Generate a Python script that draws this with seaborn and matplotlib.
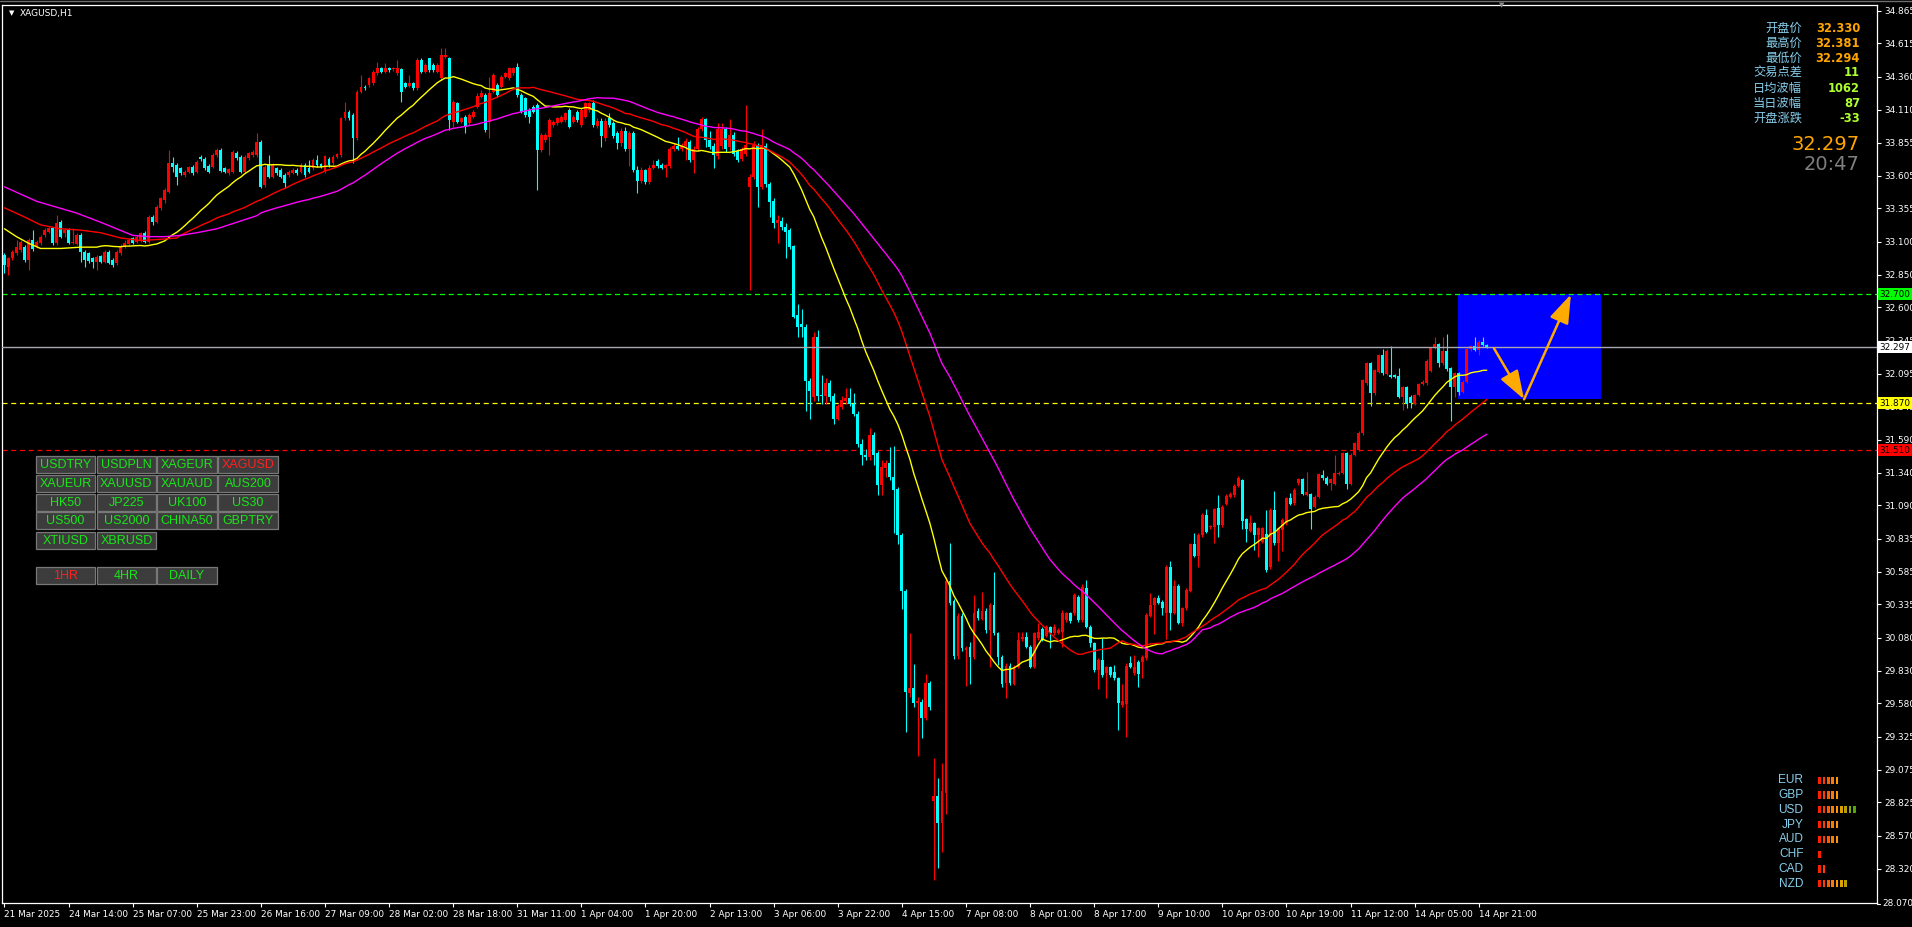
import numpy as np
import pandas as pd
import matplotlib
matplotlib.use("Agg")
import matplotlib.pyplot as plt
import matplotlib.transforms as mtransforms
from matplotlib.patches import Rectangle
import seaborn as sns

# ---------------- data (XAGUSD H1) ----------------
opens = [
33.000, 32.911, 32.975, 33.013, 33.038, 33.064, 32.962, 33.114, 33.064, 33.089,
33.152, 33.178, 33.203, 33.089, 33.254, 33.165, 33.191, 33.094, 33.084, 33.152,
33.025, 33.013, 32.975, 32.949, 32.992, 32.949, 33.025, 32.962, 32.936, 33.013,
33.058, 33.084, 33.127, 33.102, 33.114, 33.170, 33.102, 33.292, 33.254, 33.356,
33.420, 33.483, 33.699, 33.686, 33.661, 33.610, 33.636, 33.674, 33.636, 33.745,
33.732, 33.679, 33.674, 33.763, 33.801, 33.661, 33.623, 33.636, 33.781, 33.750,
33.636, 33.737, 33.763, 33.763, 33.865, 33.534, 33.686, 33.598, 33.661, 33.648,
33.610, 33.610, 33.628, 33.648, 33.636, 33.686, 33.661, 33.661, 33.725, 33.694,
33.636, 33.730, 33.699, 33.750, 33.763, 34.042, 34.093, 34.068, 33.890, 34.246,
34.284, 34.297, 34.309, 34.386, 34.424, 34.398, 34.424, 34.416, 34.386, 34.416,
34.309, 34.289, 34.309, 34.271, 34.487, 34.398, 34.500, 34.449, 34.398, 34.348,
34.513, 34.500, 34.017, 34.157, 34.017, 34.055, 34.004, 34.055, 34.131, 34.208,
34.220, 34.017, 34.246, 34.297, 34.284, 34.360, 34.348, 34.386, 34.437, 34.220,
34.195, 34.106, 34.131, 34.144, 33.801, 33.877, 33.903, 33.992, 34.004, 34.017,
34.030, 34.106, 34.017, 34.093, 33.992, 34.055, 34.106,
34.163, 33.987, 34.026, 33.890, 34.046, 34.007, 33.929, 33.851, 33.949, 33.812,
33.929, 33.645, 33.567, 33.645, 33.559, 33.664, 33.715, 33.684, 33.664, 33.676,
33.805, 33.832, 33.805, 33.832, 33.863, 33.723, 33.805, 33.960, 34.034, 33.878,
33.832, 33.754, 33.832, 33.960, 33.824, 33.917, 33.793, 33.735, 33.774, 33.521,
33.598, 33.840, 33.521, 33.832, 33.540, 33.412, 33.248, 33.260, 33.217, 33.190,
33.065, 32.540, 32.470, 32.450, 32.042, 31.914, 32.373, 31.933, 31.925, 32.023,
31.925, 31.750, 31.840, 31.886, 31.906, 31.867, 31.789, 31.555, 31.478, 31.458,
31.626, 31.490, 31.244, 31.373, 31.412, 31.310, 31.217, 30.867, 30.439, 29.660,
29.700, 29.583, 29.591, 29.466, 29.734, 28.832, 28.871, 28.665, 28.898, 30.517,
30.361, 29.941, 30.244, 29.988, 30.011, 29.933, 30.283, 30.221, 30.283,
30.139, 30.330, 30.114, 29.936, 29.732, 29.865, 29.727, 29.860, 30.068, 30.088,
30.012, 29.860, 30.076, 30.144, 30.094, 30.160, 30.114, 30.119, 30.127, 30.216,
30.266, 30.266, 30.394, 30.216, 30.457, 30.165, 30.043, 29.834, 29.910, 29.809,
29.855, 29.821, 29.771, 29.567, 29.575, 29.885, 29.809, 29.898, 29.898, 29.923,
30.246, 30.330, 30.381, 30.355, 30.272, 30.617, 30.272, 30.475, 30.195, 30.305,
30.439, 30.795, 30.704, 30.864, 31.016, 30.922, 30.922, 31.067, 30.940, 31.100,
31.156, 31.169, 31.238, 31.283, 30.983, 30.897, 30.953, 30.864, 30.813, 30.872,
30.617, 31.055, 30.805, 30.902, 30.953, 31.144, 31.105, 31.258, 31.289, 31.169,
31.177, 31.080, 31.156, 31.321, 31.301, 31.258, 31.253, 31.329, 31.339, 31.487,
31.253, 31.474, 31.512, 31.639, 32.021, 32.173, 31.945, 32.110, 32.237, 32.092,
32.084, 32.084, 32.077, 31.919, 31.990, 31.919, 31.863, 31.932, 32.016, 32.021,
32.117, 32.295, 32.321, 32.173, 32.270, 32.135, 31.995, 32.097, 31.957, 32.033,
32.280, 32.306, 32.275, 32.339, 32.313]

highs = [
33.013, 32.987, 33.038, 33.114, 33.114, 33.076, 33.127, 33.191, 33.114, 33.152,
33.203, 33.216, 33.216, 33.305, 33.267, 33.203, 33.203, 33.203, 33.165, 33.165,
33.038, 33.025, 32.987, 33.000, 33.000, 33.038, 33.038, 32.975, 33.038, 33.084,
33.114, 33.127, 33.140, 33.152, 33.178, 33.185, 33.305, 33.305, 33.381, 33.445,
33.509, 33.801, 33.750, 33.699, 33.674, 33.648, 33.679, 33.686, 33.725, 33.763,
33.745, 33.694, 33.776, 33.814, 33.814, 33.674, 33.661, 33.801, 33.796, 33.763,
33.763, 33.788, 33.801, 33.928, 33.877, 33.686, 33.763, 33.699, 33.674, 33.661,
33.623, 33.648, 33.661, 33.661, 33.699, 33.699, 33.725, 33.737, 33.763, 33.704,
33.763, 33.745, 33.763, 33.781, 34.055, 34.170, 34.106, 34.081, 34.259, 34.373,
34.297, 34.360, 34.411, 34.475, 34.437, 34.462, 34.437, 34.437, 34.487, 34.424,
34.322, 34.373, 34.322, 34.500, 34.500, 34.462, 34.500, 34.462, 34.462, 34.576,
34.576, 34.513, 34.182, 34.170, 34.055, 34.068, 34.081, 34.106, 34.233, 34.259,
34.233, 34.360, 34.386, 34.309, 34.373, 34.398, 34.437, 34.437, 34.462, 34.233,
34.208, 34.119, 34.144, 34.157, 33.928, 33.928, 34.042, 34.030, 34.055, 34.068,
34.093, 34.119, 34.068, 34.106, 34.119, 34.170, 34.170,
34.182, 34.046, 34.046, 34.046, 34.085, 34.026, 33.949, 33.968, 33.980, 33.949,
33.949, 33.676, 33.668, 33.657, 33.684, 33.723, 33.735, 33.700, 33.696, 33.824,
33.851, 33.902, 33.851, 33.890, 33.878, 33.832, 33.980, 34.054, 34.046, 33.949,
33.851, 34.007, 34.007, 33.980, 34.034, 33.941, 33.812, 33.824, 34.143, 33.618,
33.871, 33.851, 33.960, 33.851, 33.559, 33.435, 33.307, 33.287, 33.248, 33.209,
33.073, 32.626, 32.587, 32.470, 32.061, 32.412, 32.431, 32.081, 32.061, 32.050,
31.945, 31.867, 31.925, 31.984, 31.984, 31.945, 31.809, 31.594, 31.517, 31.684,
31.653, 31.505, 31.439, 31.439, 31.536, 31.544, 31.233, 30.882, 30.454, 30.116,
29.882, 29.630, 29.610, 29.804, 29.754, 29.163, 29.007, 29.124, 30.544, 30.805,
30.377, 30.272, 30.272, 30.019, 30.050, 30.408, 30.310, 30.431, 30.310,
30.343, 30.584, 30.127, 29.949, 29.885, 29.885, 29.872, 30.127, 30.127, 30.127,
30.025, 30.127, 30.190, 30.165, 30.177, 30.170, 30.185, 30.152, 30.292, 30.279,
30.279, 30.419, 30.406, 30.490, 30.521, 30.177, 30.050, 29.923, 30.076, 29.865,
29.865, 29.872, 29.783, 29.727, 29.885, 29.941, 29.949, 29.910, 29.949, 30.266,
30.424, 30.394, 30.406, 30.368, 30.635, 30.668, 30.521, 30.490, 30.317, 30.457,
30.805, 30.877, 30.877, 31.029, 31.060, 30.940, 31.072, 31.169, 31.093, 31.174,
31.194, 31.253, 31.311, 31.293, 30.994, 31.016, 30.963, 30.927, 30.927, 31.055,
31.067, 31.202, 30.927, 30.991, 31.156, 31.182, 31.220, 31.299, 31.299, 31.347,
31.187, 31.169, 31.339, 31.360, 31.311, 31.299, 31.474, 31.350, 31.500, 31.497,
31.487, 31.573, 31.655, 32.056, 32.184, 32.184, 32.133, 32.247, 32.280, 32.280,
32.306, 32.092, 32.135, 32.000, 32.000, 31.929, 31.942, 32.026, 32.044, 32.204,
32.298, 32.377, 32.331, 32.377, 32.397, 32.145, 32.107, 32.107, 32.044, 32.290,
32.316, 32.372, 32.349, 32.372, 32.323]

lows = [
32.860, 32.847, 32.962, 33.000, 33.025, 32.949, 32.886, 33.033, 33.051, 33.076,
33.140, 33.165, 33.076, 33.076, 33.127, 33.140, 33.084, 33.084, 33.076, 32.949,
32.911, 32.941, 32.898, 32.886, 32.936, 32.941, 32.931, 32.911, 32.924, 33.000,
33.051, 33.076, 33.084, 33.089, 33.102, 33.094, 33.094, 33.229, 33.246, 33.343,
33.394, 33.470, 33.636, 33.534, 33.610, 33.598, 33.628, 33.610, 33.623, 33.720,
33.648, 33.623, 33.661, 33.750, 33.636, 33.623, 33.610, 33.628, 33.725, 33.623,
33.628, 33.725, 33.750, 33.750, 33.509, 33.521, 33.585, 33.585, 33.610, 33.585,
33.509, 33.598, 33.618, 33.610, 33.623, 33.598, 33.623, 33.648, 33.674, 33.661,
33.628, 33.674, 33.686, 33.737, 33.750, 34.030, 34.030, 33.699, 33.877, 34.233,
34.259, 34.284, 34.297, 34.373, 34.386, 34.386, 34.398, 34.406, 34.373, 34.170,
34.271, 34.279, 34.259, 34.259, 34.386, 34.386, 34.398, 34.398, 34.386, 34.335,
34.500, 33.954, 33.979, 34.004, 34.004, 33.928, 33.992, 34.042, 34.119, 34.195,
33.941, 33.890, 34.233, 34.208, 34.271, 34.348, 34.335, 34.373, 34.208, 34.081,
34.055, 34.004, 34.081, 33.496, 33.788, 33.865, 33.763, 33.979, 33.992, 34.004,
34.017, 33.966, 34.004, 34.017, 33.979, 34.042, 34.093,
33.980, 33.968, 33.824, 33.871, 33.980, 33.890, 33.812, 33.832, 33.793, 33.676,
33.637, 33.470, 33.552, 33.540, 33.540, 33.653, 33.664, 33.653, 33.598, 33.664,
33.793, 33.801, 33.793, 33.723, 33.707, 33.629, 33.793, 33.949, 33.824, 33.808,
33.664, 33.735, 33.812, 33.785, 33.801, 33.754, 33.707, 33.715, 33.754, 32.735,
33.579, 33.365, 33.501, 33.521, 33.287, 33.209, 33.092, 33.190, 32.976, 33.046,
32.517, 32.373, 32.373, 31.809, 31.750, 31.886, 31.886, 31.867, 31.867, 31.886,
31.711, 31.738, 31.824, 31.867, 31.847, 31.769, 31.536, 31.400, 31.439, 31.439,
31.400, 31.167, 31.167, 31.303, 31.283, 30.882, 30.797, 30.299, 29.365, 29.630,
29.552, 29.182, 29.318, 29.455, 29.532, 28.229, 28.326, 28.443, 28.735, 30.330,
29.921, 29.921, 29.980, 29.715, 29.727, 29.917, 30.213, 30.213, 30.116,
29.860, 30.101, 29.872, 29.707, 29.618, 29.720, 29.720, 29.847, 30.058, 29.999,
29.847, 29.847, 30.063, 30.058, 30.083, 30.000, 30.101, 30.109, 30.012, 30.203,
30.195, 30.254, 30.203, 30.203, 30.152, 30.012, 29.821, 29.687, 29.783, 29.618,
29.783, 29.758, 29.377, 29.555, 29.326, 29.847, 29.796, 29.702, 29.771, 29.910,
30.236, 30.109, 30.338, 30.254, 30.068, 30.139, 30.262, 30.185, 30.170, 30.292,
30.429, 30.694, 30.617, 30.851, 30.877, 30.912, 30.800, 30.851, 30.927, 31.090,
31.146, 31.156, 31.227, 30.907, 30.813, 30.887, 30.749, 30.694, 30.800, 30.584,
30.607, 30.788, 30.668, 30.744, 30.940, 31.090, 31.095, 31.248, 31.166, 31.159,
30.907, 31.070, 31.146, 31.286, 31.243, 31.207, 31.243, 31.319, 31.329, 31.212,
31.243, 31.464, 31.502, 31.629, 32.011, 31.848, 31.934, 32.100, 32.087, 32.082,
32.059, 32.061, 31.909, 31.817, 31.830, 31.830, 31.853, 31.922, 32.006, 32.011,
32.107, 32.285, 32.143, 32.163, 32.117, 31.736, 31.914, 31.932, 31.947, 32.023,
32.270, 32.265, 32.237, 32.303, 32.288]

closes = [
32.924, 32.975, 33.025, 33.064, 33.102, 32.962, 33.114, 33.043, 33.102, 33.140,
33.191, 33.203, 33.089, 33.246, 33.140, 33.191, 33.089, 33.097, 33.152, 33.025,
32.962, 32.956, 32.949, 32.987, 32.949, 33.025, 32.941, 32.924, 33.025, 33.064,
33.094, 33.114, 33.094, 33.140, 33.165, 33.102, 33.292, 33.254, 33.369, 33.432,
33.496, 33.699, 33.674, 33.598, 33.623, 33.636, 33.674, 33.623, 33.712, 33.730,
33.661, 33.636, 33.763, 33.801, 33.643, 33.636, 33.653, 33.788, 33.737, 33.636,
33.750, 33.776, 33.788, 33.865, 33.521, 33.674, 33.598, 33.686, 33.623, 33.598,
33.547, 33.636, 33.648, 33.623, 33.686, 33.610, 33.636, 33.725, 33.686, 33.674,
33.755, 33.686, 33.750, 33.768, 34.042, 34.093, 34.042, 33.890, 34.246, 34.284,
34.271, 34.348, 34.398, 34.424, 34.398, 34.424, 34.411, 34.424, 34.424, 34.246,
34.284, 34.315, 34.271, 34.487, 34.398, 34.449, 34.411, 34.411, 34.449, 34.526,
34.526, 34.030, 34.170, 34.017, 34.042, 33.979, 34.068, 34.093, 34.213, 34.238,
33.954, 34.233, 34.373, 34.220, 34.360, 34.386, 34.424, 34.424, 34.220, 34.093,
34.068, 34.055, 34.093, 33.801, 33.915, 33.915, 34.030, 34.017, 34.042, 34.055,
34.081, 33.979, 34.055, 34.030, 34.106, 34.157, 34.157,
33.995, 34.026, 33.910, 34.026, 33.995, 33.910, 33.851, 33.949, 33.812, 33.929,
33.645, 33.567, 33.645, 33.559, 33.664, 33.684, 33.676, 33.664, 33.684, 33.805,
33.832, 33.812, 33.832, 33.871, 33.723, 33.812, 33.960, 34.034, 33.878, 33.824,
33.766, 33.960, 33.960, 33.805, 33.917, 33.774, 33.727, 33.805, 33.840, 33.598,
33.840, 33.521, 33.840, 33.540, 33.404, 33.248, 33.268, 33.217, 33.178, 33.061,
32.528, 32.450, 32.450, 32.042, 31.964, 32.373, 31.925, 31.925, 32.023, 31.917,
31.750, 31.847, 31.894, 31.906, 31.867, 31.789, 31.555, 31.478, 31.458, 31.626,
31.478, 31.244, 31.380, 31.412, 31.310, 31.205, 30.867, 30.439, 29.668, 29.700,
29.583, 29.599, 29.466, 29.734, 29.552, 28.871, 28.665, 28.910, 30.517, 30.349,
29.941, 30.244, 29.999, 29.999, 29.933, 30.272, 30.233, 30.283, 30.139,
30.330, 30.114, 29.936, 29.727, 29.865, 29.732, 29.860, 30.063, 30.083, 30.012,
29.860, 30.114, 30.127, 30.068, 30.165, 30.114, 30.165, 30.139, 30.272, 30.266,
30.210, 30.406, 30.216, 30.465, 30.165, 30.038, 29.834, 29.910, 29.796, 29.855,
29.796, 29.771, 29.580, 29.600, 29.865, 29.860, 29.860, 29.804, 29.936, 30.254,
30.330, 30.381, 30.348, 30.305, 30.617, 30.272, 30.475, 30.195, 30.305, 30.444,
30.795, 30.704, 30.864, 31.016, 30.889, 30.933, 31.060, 30.940, 31.080, 31.161,
31.177, 31.238, 31.296, 30.973, 30.907, 30.953, 30.864, 30.915, 30.915, 30.597,
31.055, 30.800, 30.915, 30.978, 31.144, 31.100, 31.207, 31.289, 31.177, 31.194,
31.060, 31.156, 31.329, 31.296, 31.253, 31.289, 31.339, 31.339, 31.487, 31.253,
31.474, 31.563, 31.644, 32.046, 32.173, 31.945, 32.123, 32.237, 32.097, 32.270,
32.072, 32.072, 31.919, 31.990, 31.863, 31.868, 31.932, 32.016, 32.033, 32.194,
32.288, 32.321, 32.173, 32.270, 32.128, 31.995, 32.097, 31.957, 32.033, 32.280,
32.306, 32.275, 32.339, 32.313, 32.297]

# moving-average periods and their visible starting stretch (before the window fills)
ma_periods = [25, 45, 65]
yellow_head_bars = [0, 3, 6, 9, 14, 19, 23]
yellow_head = [33.20, 33.14, 33.09, 33.05, 33.05, 33.06, 33.06]
red_head_bars = [0, 5, 9, 14, 19, 24, 29, 34, 39, 43]
red_head = [33.36, 33.29, 33.23, 33.20, 33.19, 33.17, 33.13, 33.11, 33.12, 33.13]
magenta_head_bars = [0, 8, 18, 24, 28, 32, 36, 40, 44, 48, 53, 58, 63]
magenta_head = [33.52, 33.41, 33.32, 33.25, 33.20, 33.15, 33.14, 33.14, 33.15, 33.17, 33.20, 33.25, 33.30]

time_labels = ["21 Mar 2025", "24 Mar 14:00", "25 Mar 07:00", "25 Mar 23:00", "26 Mar 16:00",
               "27 Mar 09:00", "28 Mar 02:00", "28 Mar 18:00", "31 Mar 11:00", "1 Apr 04:00",
               "1 Apr 20:00", "2 Apr 13:00", "3 Apr 06:00", "3 Apr 22:00", "4 Apr 15:00",
               "7 Apr 08:00", "8 Apr 01:00", "8 Apr 17:00", "9 Apr 10:00", "10 Apr 03:00",
               "10 Apr 19:00", "11 Apr 12:00", "14 Apr 05:00", "14 Apr 21:00"]
price_ticks = [34.865, 34.615, 34.360, 34.110, 33.855, 33.605, 33.355, 33.100, 32.850,
               32.600, 32.345, 32.095, 31.845, 31.590, 31.340, 31.090, 30.835, 30.585,
               30.335, 30.080, 29.830, 29.580, 29.325, 29.075, 28.825, 28.570, 28.320]
bottom_tick = 28.070

levels = [32.700, 32.297, 31.870, 31.510]
level_colors = ["#00FF00", "#A8A8B4", "#FFFF00", "#FF0000"]
level_box_colors = ["#00FF00", "#FFFFFF", "#FFFF00", "#FF0000"]

zone_bars = [362.7, 398.4]
zone_prices = [31.899, 32.700]
arrow_bars = [371.8, 379.3, 391.0]
arrow_prices = [32.288, 31.899, 32.700]

info_labels = ["开盘价", "最高价", "最低价", "交易点差", "日均波幅", "当日波幅", "开盘涨跌"]
info_values = ["32.330", "32.381", "32.294", "11", "1062", "87", "-33"]
last_price = "32.297"
clock_text = "20:47"

buttons = [["USDTRY", "USDPLN", "XAGEUR", "XAGUSD"],
           ["XAUEUR", "XAUUSD", "XAUAUD", "AUS200"],
           ["HK50", "JP225", "UK100", "US30"],
           ["US500", "US2000", "CHINA50", "GBPTRY"],
           ["XTIUSD", "XBRUSD"]]
timeframes = ["1HR", "4HR", "DAILY"]

currencies = ["EUR", "GBP", "USD", "JPY", "AUD", "CHF", "CAD", "NZD"]
strength = [5, 5, 9, 5, 5, 1, 2, 7]

# ---------------- style ----------------
sns.set_style("dark", rc={"axes.facecolor": "black", "figure.facecolor": "black"})
plt.rcParams["font.family"] = ["DejaVu Sans"]

W, H = 1912, 927
fig = plt.figure(figsize=(W / 100, H / 100), dpi=100, facecolor="black")
ax = fig.add_axes([2 / W, 1 - 903 / H, (1877 - 2) / W, (903 - 4.5) / H])
ax.set_facecolor("black")

n = len(closes)
x = np.arange(n)
o = np.array(opens); c = np.array(closes); hi = np.array(highs); lo = np.array(lows)
up = c >= o
cols = np.where(up, "#FF0000", "#00FFFF")

# zone and levels
ax.add_patch(Rectangle((zone_bars[0], zone_prices[0]), zone_bars[1] - zone_bars[0],
                       zone_prices[1] - zone_prices[0], facecolor="#0000FF", edgecolor="none", zorder=1))
for lv, lc in zip(levels, level_colors):
    if lc == "#A8A8B4":
        ax.axhline(lv, color=lc, lw=1.0, zorder=6)
    else:
        ax.axhline(lv, color=lc, lw=0.9, linestyle=(0, (4, 3)), zorder=2)

# candles
ax.vlines(x, lo, hi, colors=cols, linewidth=0.8, zorder=3)
body_bottom = np.minimum(o, c)
body_h = np.maximum(np.abs(c - o), 0.006)
ax.bar(x, body_h, bottom=body_bottom, width=0.72, color=cols, linewidth=0, zorder=4)

# moving averages
s = pd.Series(closes)
for per, hb, hv, colr in zip(ma_periods,
                             [yellow_head_bars, red_head_bars, magenta_head_bars],
                             [yellow_head, red_head, magenta_head],
                             ["#FFFF00", "#FF0000", "#FF00FF"]):
    sma = s.rolling(per).mean()
    xs = list(hb) + list(range(per - 1, n))
    ys = list(hv) + list(sma.iloc[per - 1:])
    sns.lineplot(x=xs, y=ys, ax=ax, color=colr, linewidth=1.0, sort=False,
                 estimator=None, errorbar=None, zorder=5)

# arrows
arrow_kw = dict(arrowstyle="-|>,head_length=1.6,head_width=0.55", color="#FFAA00",
                lw=1.8, mutation_scale=11, shrinkA=0, shrinkB=0)
ax.annotate("", xy=(arrow_bars[1], arrow_prices[1]), xytext=(arrow_bars[0], arrow_prices[0]),
            arrowprops=arrow_kw, zorder=7)
ax.annotate("", xy=(arrow_bars[2], arrow_prices[2]), xytext=(arrow_bars[1], arrow_prices[1]),
            arrowprops=arrow_kw, zorder=7)

ax.set_xlim(-0.62, 467.4)
ax.set_ylim(28.057, 34.911)
ax.set_xlabel(""); ax.set_ylabel("")
ax.grid(False)
for sp in ax.spines.values():
    sp.set_color("white"); sp.set_linewidth(0.9); sp.set_visible(True)

ax.yaxis.tick_right()
ax.set_yticks(price_ticks)
ax.set_yticklabels([f"{t:.3f}" for t in price_ticks])
ax.tick_params(axis="y", colors="white", length=3, width=0.8, pad=2, labelsize=6.4,
               right=True, left=False, direction="out")
tick_pos = list(range(0, 16 * len(time_labels), 16))
ax.set_xticks(tick_pos)
ax.set_xticklabels(time_labels)
ax.tick_params(axis="x", colors="white", length=3, width=0.8, pad=2, labelsize=6.4,
               bottom=True, direction="out")
for lbl in ax.get_xticklabels():
    lbl.set_ha("left")

# level boxes on the price scale
bt = mtransforms.blended_transform_factory(fig.transFigure, ax.transData)
for lv, bc in zip(levels, level_box_colors):
    ax.text(1879.5 / W, lv, f"{lv:.3f}", transform=bt, ha="left", va="center", fontsize=6.4,
            color="black", zorder=20, clip_on=False,
            bbox=dict(boxstyle="square,pad=0.18", facecolor=bc, edgecolor="none"))

# ---------------- overlay (pixel space) ----------------
ov = fig.add_axes([0, 0, 1, 1])
ov.set_xlim(0, W); ov.set_ylim(H, 0); ov.axis("off"); ov.patch.set_alpha(0)
ov.set_zorder(10)

ov.plot([0, W], [0.8, 0.8], color="#6E6E6E", lw=1)
ov.text(12, 13, "▼", color="white", fontsize=5, ha="center", va="center")
ov.text(20, 13, "XAGUSD,H1", color="white", fontsize=6.5, ha="left", va="center")
ov.text(1502, 5.5, "▼", color="#8A8A8A", fontsize=5, ha="center", va="center")

# bottom price label on the frame edge
ov.plot([1877, 1880], [904, 904], color="white", lw=0.8)
ov.text(1882.5, 904, f"{bottom_tick:.3f}", color="white", fontsize=6.4, ha="left", va="center")

# info panel
cjk = ["Noto Sans CJK SC", "DejaVu Sans"]
row_y = [28.3, 43.3, 58.3, 72.9, 88.3, 103.3, 118.3]
for i, (lab, val) in enumerate(zip(info_labels, info_values)):
    ov.text(1802, row_y[i], lab, family=cjk, fontsize=8.8, color="#87CEEB", ha="right", va="center")
    vc = "#FFA500" if i < 3 else "#ADFF2F"
    ov.text(1860, row_y[i], val, fontsize=8.3, fontweight="bold", color=vc, ha="right", va="center")
ov.text(1860, 144, last_price, fontsize=14, color="#FFA500", ha="right", va="center")
ov.text(1860, 164.5, clock_text, fontsize=14, color="#7F7F7F", ha="right", va="center")

# symbol buttons
col_x = [35.7, 96.7, 157.3, 218.3]
row_top = [455.7, 474.7, 493.7, 512.3, 531.7]
bw, bh = 59.3, 16.8
for r, row in enumerate(buttons):
    for ci, name in enumerate(row):
        ov.add_patch(Rectangle((col_x[ci], row_top[r]), bw, bh, facecolor="#3C3C3C",
                               edgecolor="#787878", lw=0.9))
        tc = "#FF2020" if name == "XAGUSD" else "#19E619"
        ov.text(col_x[ci] + bw / 2, row_top[r] + bh / 2 + 0.5, name, family=["Liberation Sans", "DejaVu Sans"],
                fontsize=9, color=tc, ha="center", va="center")
for ci, name in enumerate(timeframes):
    ov.add_patch(Rectangle((col_x[ci], 567.3), bw, bh, facecolor="#3C3C3C", edgecolor="#787878", lw=0.9))
    tc = "#FF2020" if name == "1HR" else "#19E619"
    ov.text(col_x[ci] + bw / 2, 567.3 + bh / 2 + 0.5, name, family=["Liberation Sans", "DejaVu Sans"],
            fontsize=9, color=tc, ha="center", va="center")

# currency strength meter
seg_colors = ["#FF2000", "#FF3C00", "#FF5A00", "#FF7A00", "#FF9800", "#DDA000", "#B4A000", "#84A800", "#52A800"]
cur_y = [780.2, 795.0, 809.8, 824.6, 839.4, 854.2, 869.0, 883.8]
for i, (cur, sv) in enumerate(zip(currencies, strength)):
    ov.text(1803.5, cur_y[i], cur, family=["Liberation Sans", "DejaVu Sans"], fontsize=8.6,
            color="#87CEEB", ha="right", va="center")
    for k in range(sv):
        ov.add_patch(Rectangle((1818.3 + 4.33 * k, cur_y[i] - 3.6), 2.7, 7.3,
                               facecolor=seg_colors[k], edgecolor="none"))

fig.savefig("out.png", dpi=100, facecolor="black")
